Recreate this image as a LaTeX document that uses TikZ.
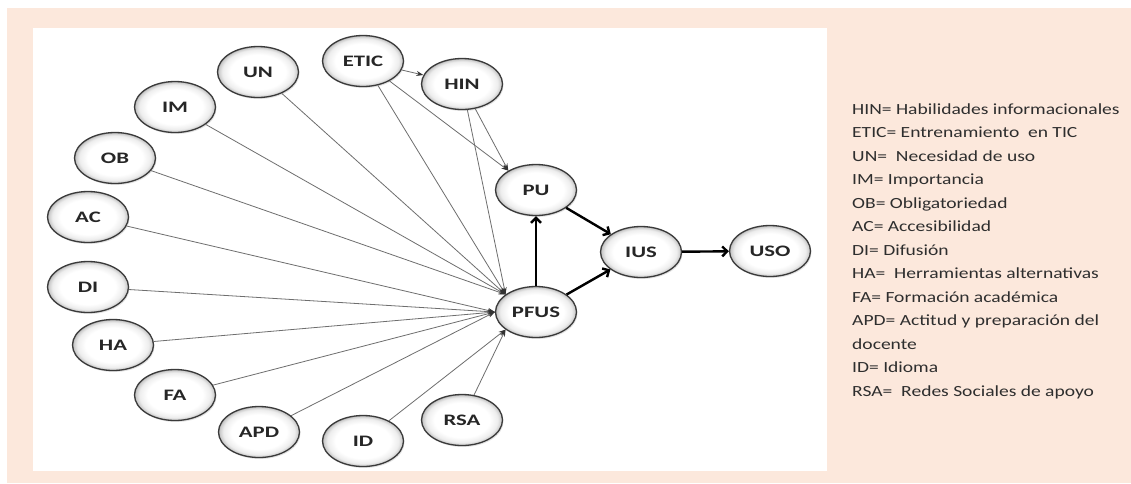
\documentclass[tikz,border=0pt]{standalone}
\usepackage{fontspec}
\setmainfont{Carlito}[FakeStretch=1.26]
\newfontfamily\nodefont{Carlito}[FakeStretch=1.42]
\usetikzlibrary{arrows.meta,shapes.geometric,shadows}
\definecolor{peach}{HTML}{FCE8DC}
\definecolor{thinline}{HTML}{6E6E6E}
\definecolor{rim}{HTML}{3A3A3A}
\pgfdeclareradialshading{ballshade}{\pgfpoint{0bp}{0bp}}{color(0bp)=(white); color(17bp)=(white); color(22bp)=(black!7); color(24.5bp)=(black!22); color(25bp)=(black!35); color(50bp)=(black!35)}
\begin{document}
\begin{tikzpicture}[x=1pt,y=-1pt,
  var/.style={ellipse, draw=rim, line width=1.3pt, minimum width=81pt, minimum height=51pt, inner sep=0pt, shading=ballshade, shade, drop shadow={shadow xshift=1pt, shadow yshift=-1.5pt, opacity=0.22}, font=\nodefont\bfseries\fontsize{16}{16}\selectfont, text=black!85},
  thinarrow/.style={draw=thinline, line width=0.8pt, -{Stealth[length=7pt,width=5pt,color=black!80]}},
  thickarrow/.style={draw=black, line width=2.4pt, -{Straight Barb[length=5pt,width=10pt]}},
  legend/.style={anchor=base west, inner sep=0pt, font=\fontsize{15.5}{18}\selectfont, text=black!82}
]
\useasboundingbox (0,0) rectangle (1131,483);
\fill[white] (0,0) rectangle (1131,483);
\fill[peach] (7,8) rectangle (1131,483);
\fill[white] (33,28) rectangle (827,471);

% nodes
\node[var] (UN) at (258,72) {UN};
\node[var] (ETIC) at (363,61) {ETIC};
\node[var] (HIN) at (462,84) {HIN};
\node[var] (IM) at (175,107) {IM};
\node[var] (OB) at (115,158) {OB};
\node[var] (AC) at (88,217) {AC};
\node[var] (DI) at (88,287) {DI};
\node[var] (HA) at (113,345) {HA};
\node[var] (FA) at (175,395) {FA};
\node[var] (APD) at (259,432) {APD};
\node[var] (ID) at (363,441) {ID};
\node[var] (RSA) at (462,420) {RSA};
\node[var] (PU) at (536,190) {PU};
\node[var] (PFUS) at (536,312) {PFUS};
\node[var] (IUS) at (641,252) {IUS};
\node[var] (USO) at (770,251) {USO};

% thin connectors
\foreach \s in {HIN,ETIC,UN,IM,OB}{\draw[thinarrow] (\s) -- (PFUS.150);}
\foreach \s in {AC,DI,HA,FA,APD}{\draw[thinarrow] (\s) -- (PFUS.180);}
\foreach \s in {ID,RSA}{\draw[thinarrow] (\s) -- (PFUS.210);}
\draw[thinarrow] (ETIC) -- (HIN);
\draw[thinarrow] (ETIC) -- (PU.145);
\draw[thinarrow] (HIN) -- (PU.145);

% thick connectors
\draw[thickarrow] (PFUS) -- (PU);
\draw[thickarrow] (PU) -- (IUS);
\draw[thickarrow] (PFUS) -- (IUS);
\draw[thickarrow] (IUS) -- (USO);

% legend
\node[legend] (l1) at (852,114.3) {HIN= Habilidades informacionales};
\node[legend] (l2) at (852,137.8) {ETIC= Entrenamiento \ en TIC};
\node[legend] (l3) at (852,161.3) {UN= \ Necesidad de uso};
\node[legend] (l4) at (852,184.8) {IM= Importancia};
\node[legend] (l5) at (852,208.3) {OB= Obligatoriedad};
\node[legend] (l6) at (852,231.8) {AC= Accesibilidad};
\node[legend] (l7) at (852,255.3) {DI= Difusión};
\node[legend] (l8) at (852,278.8) {HA= \ Herramientas alternativas};
\node[legend] (l9) at (852,302.3) {FA= Formación académica};
\node[legend] (l10) at (852,325.8) {APD= Actitud y preparación del};
\node[legend] (l11) at (852,349.3) {docente};
\node[legend] (l12) at (852,372.8) {ID= Idioma};
\node[legend] (l13) at (852,396.3) {RSA= \ Redes Sociales de apoyo};
\end{tikzpicture}
\end{document}
